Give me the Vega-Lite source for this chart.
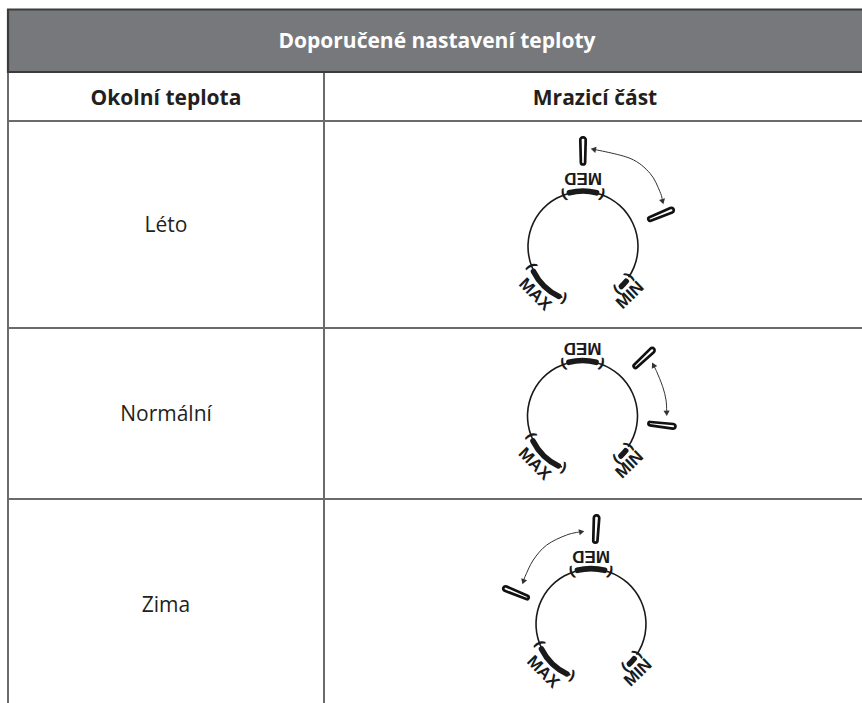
{
  "$schema": "https://vega.github.io/schema/vega-lite/v6.json",
  "width": 862,
  "height": 703,
  "padding": 0,
  "autosize": {"type": "none"},
  "background": "white",
  "config": {"view": {"stroke": null}},
  "datasets": {
    "cells": [
      {"kind": "title", "text": "Doporučené nastavení teploty", "c0": 0, "c1": 2, "r0": 0, "r1": 1},
      {"kind": "head", "text": "Okolní teplota", "c0": 0, "c1": 1, "r0": 1, "r1": 2},
      {"kind": "head", "text": "Mrazicí část", "c0": 1, "c1": 2, "r0": 1, "r1": 2},
      {"kind": "body", "text": "Léto", "c0": 0, "c1": 1, "r0": 2, "r1": 3},
      {"kind": "body", "text": "", "c0": 1, "c1": 2, "r0": 2, "r1": 3},
      {"kind": "body", "text": "Normální", "c0": 0, "c1": 1, "r0": 3, "r1": 4},
      {"kind": "body", "text": "", "c0": 1, "c1": 2, "r0": 3, "r1": 4},
      {"kind": "body", "text": "Zima", "c0": 0, "c1": 1, "r0": 4, "r1": 5},
      {"kind": "body", "text": "", "c0": 1, "c1": 2, "r0": 4, "r1": 5}
    ],
    "dialArcs": [
      {"part": "ring", "a0": -158, "a1": 124},
      {"part": "MED", "a0": -17, "a1": 17},
      {"part": "MAX", "a0": -157, "a1": -114},
      {"part": "MIN", "a0": 126, "a1": 139}
    ],
    "brackets": [
      {"a": -20, "g": "("}, {"a": 20, "g": ")"},
      {"a": -160, "g": "("}, {"a": -111, "g": ")"},
      {"a": 123, "g": "("}, {"a": 142, "g": ")"}
    ],
    "dialLabels": [
      {"label": "MED", "a": 0},
      {"label": "MAX", "a": -135},
      {"label": "MIN", "a": 136}
    ],
    "knobs": [
      {"season": "Léto", "a": 0, "d": 1.722},
      {"season": "Léto", "a": 67.7, "d": 1.519},
      {"season": "Normální", "a": 46.7, "d": 1.523},
      {"season": "Normální", "a": 96.5, "d": 1.441},
      {"season": "Zima", "a": 3, "d": 1.714},
      {"season": "Zima", "a": -67.5, "d": 1.463}
    ],
    "arrows": [
      {"season": "Léto", "i": 0, "x": 0.186, "y": 1.751, "head": -78},
      {"season": "Léto", "i": 1, "x": 0.847, "y": 1.589, "head": null},
      {"season": "Léto", "i": 2, "x": 1.207, "y": 1.319, "head": null},
      {"season": "Léto", "i": 3, "x": 1.387, "y": 0.987, "head": null},
      {"season": "Léto", "i": 4, "x": 1.436, "y": 0.807, "head": 165},
      {"season": "Normální", "i": 0, "x": 1.276, "y": 0.919, "head": -27},
      {"season": "Normální", "i": 1, "x": 1.337, "y": 0.798, "head": null},
      {"season": "Normální", "i": 2, "x": 1.445, "y": 0.528, "head": null},
      {"season": "Normální", "i": 3, "x": 1.505, "y": 0.288, "head": null},
      {"season": "Normální", "i": 4, "x": 1.517, "y": 0.049, "head": 177},
      {"season": "Zima", "i": 0, "x": -0.168, "y": 1.663, "head": 78},
      {"season": "Zima", "i": 1, "x": -0.438, "y": 1.604, "head": null},
      {"season": "Zima", "i": 2, "x": -0.798, "y": 1.423, "head": null},
      {"season": "Zima", "i": 3, "x": -1.04, "y": 1.153, "head": null},
      {"season": "Zima", "i": 4, "x": -1.189, "y": 0.852, "head": null},
      {"season": "Zima", "i": 5, "x": -1.22, "y": 0.762, "head": -161}
    ]
  },
  "layer": [
    {
      "data": {"name": "cells"},
      "transform": [
        {"calculate": "(datum.c0 + datum.c1) / 2", "as": "cm"},
        {"calculate": "(datum.r0 + datum.r1) / 2", "as": "rm"}
      ],
      "encoding": {
        "x": {"field": "c0", "type": "quantitative", "scale": {"type": "linear", "domain": [0, 1, 2], "range": [8, 324, 866], "nice": false, "zero": false}, "axis": null},
        "y": {"field": "r0", "type": "quantitative", "scale": {"type": "linear", "domain": [0, 1, 2, 3, 4, 5], "range": [9.5, 72, 121, 328, 499, 711], "nice": false, "zero": false}, "axis": null}
      },
      "layer": [
        {
          "transform": [{"filter": "datum.kind != 'title'"}],
          "mark": {"type": "rect", "fill": "transparent", "stroke": "#6b6b6b", "strokeWidth": 2},
          "encoding": {"x2": {"field": "c1"}, "y2": {"field": "r1"}}
        },
        {
          "transform": [{"filter": "datum.kind == 'title'"}],
          "mark": {"type": "rect", "fill": "#77787b", "stroke": "#3c3c3c", "strokeWidth": 2.2},
          "encoding": {"x2": {"field": "c1"}, "y2": {"field": "r1"}}
        },
        {
          "transform": [{"filter": "datum.kind == 'head'"}],
          "mark": {"type": "text", "font": "Open Sans", "fontWeight": "bold", "fontSize": 21, "color": "#231f20", "baseline": "middle", "align": "center", "dy": 2},
          "encoding": {
            "x": {"field": "cm", "type": "quantitative"},
            "y": {"field": "rm", "type": "quantitative"},
            "text": {"field": "text"}
          }
        },
        {
          "transform": [{"filter": "datum.kind == 'body' && datum.text != ''"}],
          "mark": {"type": "text", "font": "Open Sans", "fontSize": 21, "color": "#231f20", "baseline": "middle", "align": "center", "dy": 1},
          "encoding": {
            "x": {"field": "cm", "type": "quantitative"},
            "y": {"field": "rm", "type": "quantitative"},
            "text": {"field": "text"}
          }
        }
      ]
    },
    {
      "data": {"name": "cells"},
      "transform": [
        {"filter": "datum.kind == 'title'"},
        {"calculate": "(datum.c0 + datum.c1) / 2", "as": "cm"},
        {"calculate": "(datum.r0 + datum.r1) / 2", "as": "rm"}
      ],
      "mark": {"type": "text", "font": "Open Sans", "fontWeight": "bold", "fontSize": 21, "color": "white", "baseline": "middle", "align": "center", "dy": 1},
      "encoding": {
        "x": {"field": "cm", "type": "quantitative", "scale": {"type": "linear", "domain": [0, 2], "range": [8, 866], "nice": false, "zero": false}, "axis": null},
        "y": {"field": "rm", "type": "quantitative", "scale": {"type": "linear", "domain": [0, 1, 2, 3, 4, 5], "range": [9.5, 72, 121, 328, 499, 711], "nice": false, "zero": false}, "axis": null},
        "text": {"field": "text"}
      }
    },
    {
      "layer": [
        {
          "data": {"name": "dialArcs"},
          "transform": [{"filter": "datum.part == 'ring'"}],
          "mark": {"type": "arc", "radius": 55.8, "radius2": 54.2, "fill": "#1a1a1a"},
          "encoding": {
            "x": {"datum": 0, "type": "quantitative", "scale": {"domain": [-10.5045, 5.027], "nice": false, "zero": false}, "axis": null},
            "y": {"datum": 0, "type": "quantitative", "scale": {"domain": [-8.2252, 4.4414], "nice": false, "zero": false}, "axis": null},
            "theta": {"field": "a0", "type": "quantitative", "stack": null, "scale": {"type": "linear", "domain": [-180, 180], "range": [-3.14159265, 3.14159265]}},
            "theta2": {"field": "a1"}
          }
        },
        {
          "data": {"name": "dialArcs"},
          "transform": [{"filter": "datum.part != 'ring'"}],
          "mark": {"type": "arc", "radius": 58.2, "radius2": 52.6, "cornerRadius": 2.6, "fill": "#1a1a1a"},
          "encoding": {
            "x": {"datum": 0, "type": "quantitative", "scale": {"domain": [-10.5045, 5.027], "nice": false, "zero": false}, "axis": null},
            "y": {"datum": 0, "type": "quantitative", "scale": {"domain": [-8.2252, 4.4414], "nice": false, "zero": false}, "axis": null},
            "theta": {"field": "a0", "type": "quantitative", "stack": null, "scale": {"type": "linear", "domain": [-180, 180], "range": [-3.14159265, 3.14159265]}},
            "theta2": {"field": "a1"}
          }
        },
        {
          "data": {"name": "brackets"},
          "mark": {"type": "text", "radius": 55, "font": "DejaVu Sans", "fontWeight": "bold", "fontSize": 14, "color": "#1a1a1a", "baseline": "middle", "align": "center"},
          "encoding": {
            "x": {"datum": 0, "type": "quantitative", "scale": {"domain": [-10.5045, 5.027], "nice": false, "zero": false}, "axis": null},
            "y": {"datum": 0, "type": "quantitative", "scale": {"domain": [-8.2252, 4.4414], "nice": false, "zero": false}, "axis": null},
            "theta": {"field": "a", "type": "quantitative", "stack": null, "scale": {"type": "linear", "domain": [-180, 180], "range": [-3.14159265, 3.14159265]}},
            "angle": {"field": "a", "type": "quantitative", "scale": null},
            "text": {"field": "g"}
          }
        },
        {
          "data": {"name": "dialLabels"},
          "transform": [{"calculate": "datum.a + 180", "as": "rot"}],
          "mark": {"type": "text", "radius": 68, "font": "Liberation Sans", "fontWeight": "bold", "fontSize": 17, "color": "#1a1a1a", "baseline": "middle", "align": "center"},
          "encoding": {
            "x": {"datum": 0, "type": "quantitative", "scale": {"domain": [-10.5045, 5.027], "nice": false, "zero": false}, "axis": null},
            "y": {"datum": 0, "type": "quantitative", "scale": {"domain": [-8.2252, 4.4414], "nice": false, "zero": false}, "axis": null},
            "theta": {"field": "a", "type": "quantitative", "stack": null, "scale": {"type": "linear", "domain": [-180, 180], "range": [-3.14159265, 3.14159265]}},
            "angle": {"field": "rot", "type": "quantitative", "scale": null},
            "text": {"field": "label"}
          }
        },
        {
          "data": {"name": "arrows"},
          "transform": [{"filter": "datum.season == 'Léto'"}],
          "mark": {"type": "line", "interpolate": "cardinal", "strokeWidth": 1, "color": "#333333"},
          "encoding": {
            "x": {"field": "x", "type": "quantitative", "scale": {"domain": [-10.5045, 5.027], "nice": false, "zero": false}, "axis": null},
            "y": {"field": "y", "type": "quantitative", "scale": {"domain": [-8.2252, 4.4414], "nice": false, "zero": false}, "axis": null},
            "order": {"field": "i"}
          }
        },
        {
          "data": {"name": "arrows"},
          "transform": [{"filter": "datum.season == 'Léto' && datum.head != null"}],
          "mark": {"type": "point", "shape": "triangle-up", "filled": true, "size": 38, "color": "#333333", "opacity": 1},
          "encoding": {
            "x": {"field": "x", "type": "quantitative", "scale": {"domain": [-10.5045, 5.027], "nice": false, "zero": false}, "axis": null},
            "y": {"field": "y", "type": "quantitative", "scale": {"domain": [-8.2252, 4.4414], "nice": false, "zero": false}, "axis": null},
            "angle": {"field": "head", "type": "quantitative", "scale": null}
          }
        },
        {
          "data": {"name": "knobs"},
          "transform": [
            {"filter": "datum.season == 'Léto'"},
            {"calculate": "datum.a - 1.45", "as": "a0"},
            {"calculate": "datum.a + 1.45", "as": "a1"},
            {"calculate": "datum.d - 0.245", "as": "d0"},
            {"calculate": "datum.d + 0.245", "as": "d1"}
          ],
          "mark": {"type": "arc", "fill": "white", "stroke": "#111111", "strokeWidth": 2.7, "cornerRadius": 2.5},
          "encoding": {
            "x": {"datum": 0, "type": "quantitative", "scale": {"domain": [-10.5045, 5.027], "nice": false, "zero": false}, "axis": null},
            "y": {"datum": 0, "type": "quantitative", "scale": {"domain": [-8.2252, 4.4414], "nice": false, "zero": false}, "axis": null},
            "theta": {"field": "a0", "type": "quantitative", "stack": null, "scale": {"type": "linear", "domain": [-180, 180], "range": [-3.14159265, 3.14159265]}},
            "theta2": {"field": "a1"},
            "radius": {"field": "d1", "type": "quantitative", "scale": {"type": "linear", "domain": [0, 1], "range": [0, 55.5], "zero": true}},
            "radius2": {"field": "d0"}
          }
        }
      ]
    },
    {
      "layer": [
        {
          "data": {"name": "dialArcs"},
          "transform": [{"filter": "datum.part == 'ring'"}],
          "mark": {"type": "arc", "radius": 55.8, "radius2": 54.2, "fill": "#1a1a1a"},
          "encoding": {
            "x": {"datum": 0, "type": "quantitative", "scale": {"domain": [-10.4955, 5.036], "nice": false, "zero": false}, "axis": null},
            "y": {"datum": 0, "type": "quantitative", "scale": {"domain": [-5.1712, 7.4955], "nice": false, "zero": false}, "axis": null},
            "theta": {"field": "a0", "type": "quantitative", "stack": null, "scale": {"type": "linear", "domain": [-180, 180], "range": [-3.14159265, 3.14159265]}},
            "theta2": {"field": "a1"}
          }
        },
        {
          "data": {"name": "dialArcs"},
          "transform": [{"filter": "datum.part != 'ring'"}],
          "mark": {"type": "arc", "radius": 58.2, "radius2": 52.6, "cornerRadius": 2.6, "fill": "#1a1a1a"},
          "encoding": {
            "x": {"datum": 0, "type": "quantitative", "scale": {"domain": [-10.4955, 5.036], "nice": false, "zero": false}, "axis": null},
            "y": {"datum": 0, "type": "quantitative", "scale": {"domain": [-5.1712, 7.4955], "nice": false, "zero": false}, "axis": null},
            "theta": {"field": "a0", "type": "quantitative", "stack": null, "scale": {"type": "linear", "domain": [-180, 180], "range": [-3.14159265, 3.14159265]}},
            "theta2": {"field": "a1"}
          }
        },
        {
          "data": {"name": "brackets"},
          "mark": {"type": "text", "radius": 55, "font": "DejaVu Sans", "fontWeight": "bold", "fontSize": 14, "color": "#1a1a1a", "baseline": "middle", "align": "center"},
          "encoding": {
            "x": {"datum": 0, "type": "quantitative", "scale": {"domain": [-10.4955, 5.036], "nice": false, "zero": false}, "axis": null},
            "y": {"datum": 0, "type": "quantitative", "scale": {"domain": [-5.1712, 7.4955], "nice": false, "zero": false}, "axis": null},
            "theta": {"field": "a", "type": "quantitative", "stack": null, "scale": {"type": "linear", "domain": [-180, 180], "range": [-3.14159265, 3.14159265]}},
            "angle": {"field": "a", "type": "quantitative", "scale": null},
            "text": {"field": "g"}
          }
        },
        {
          "data": {"name": "dialLabels"},
          "transform": [{"calculate": "datum.a + 180", "as": "rot"}],
          "mark": {"type": "text", "radius": 68, "font": "Liberation Sans", "fontWeight": "bold", "fontSize": 17, "color": "#1a1a1a", "baseline": "middle", "align": "center"},
          "encoding": {
            "x": {"datum": 0, "type": "quantitative", "scale": {"domain": [-10.4955, 5.036], "nice": false, "zero": false}, "axis": null},
            "y": {"datum": 0, "type": "quantitative", "scale": {"domain": [-5.1712, 7.4955], "nice": false, "zero": false}, "axis": null},
            "theta": {"field": "a", "type": "quantitative", "stack": null, "scale": {"type": "linear", "domain": [-180, 180], "range": [-3.14159265, 3.14159265]}},
            "angle": {"field": "rot", "type": "quantitative", "scale": null},
            "text": {"field": "label"}
          }
        },
        {
          "data": {"name": "arrows"},
          "transform": [{"filter": "datum.season == 'Normální'"}],
          "mark": {"type": "line", "interpolate": "cardinal", "strokeWidth": 1, "color": "#333333"},
          "encoding": {
            "x": {"field": "x", "type": "quantitative", "scale": {"domain": [-10.4955, 5.036], "nice": false, "zero": false}, "axis": null},
            "y": {"field": "y", "type": "quantitative", "scale": {"domain": [-5.1712, 7.4955], "nice": false, "zero": false}, "axis": null},
            "order": {"field": "i"}
          }
        },
        {
          "data": {"name": "arrows"},
          "transform": [{"filter": "datum.season == 'Normální' && datum.head != null"}],
          "mark": {"type": "point", "shape": "triangle-up", "filled": true, "size": 38, "color": "#333333", "opacity": 1},
          "encoding": {
            "x": {"field": "x", "type": "quantitative", "scale": {"domain": [-10.4955, 5.036], "nice": false, "zero": false}, "axis": null},
            "y": {"field": "y", "type": "quantitative", "scale": {"domain": [-5.1712, 7.4955], "nice": false, "zero": false}, "axis": null},
            "angle": {"field": "head", "type": "quantitative", "scale": null}
          }
        },
        {
          "data": {"name": "knobs"},
          "transform": [
            {"filter": "datum.season == 'Normální'"},
            {"calculate": "datum.a - 1.45", "as": "a0"},
            {"calculate": "datum.a + 1.45", "as": "a1"},
            {"calculate": "datum.d - 0.245", "as": "d0"},
            {"calculate": "datum.d + 0.245", "as": "d1"}
          ],
          "mark": {"type": "arc", "fill": "white", "stroke": "#111111", "strokeWidth": 2.7, "cornerRadius": 2.5},
          "encoding": {
            "x": {"datum": 0, "type": "quantitative", "scale": {"domain": [-10.4955, 5.036], "nice": false, "zero": false}, "axis": null},
            "y": {"datum": 0, "type": "quantitative", "scale": {"domain": [-5.1712, 7.4955], "nice": false, "zero": false}, "axis": null},
            "theta": {"field": "a0", "type": "quantitative", "stack": null, "scale": {"type": "linear", "domain": [-180, 180], "range": [-3.14159265, 3.14159265]}},
            "theta2": {"field": "a1"},
            "radius": {"field": "d1", "type": "quantitative", "scale": {"type": "linear", "domain": [0, 1], "range": [0, 55.5], "zero": true}},
            "radius2": {"field": "d0"}
          }
        }
      ]
    },
    {
      "layer": [
        {
          "data": {"name": "dialArcs"},
          "transform": [{"filter": "datum.part == 'ring'"}],
          "mark": {"type": "arc", "radius": 55.8, "radius2": 54.2, "fill": "#1a1a1a"},
          "encoding": {
            "x": {"datum": 0, "type": "quantitative", "scale": {"domain": [-10.6486, 4.8829], "nice": false, "zero": false}, "axis": null},
            "y": {"datum": 0, "type": "quantitative", "scale": {"domain": [-1.4234, 11.2432], "nice": false, "zero": false}, "axis": null},
            "theta": {"field": "a0", "type": "quantitative", "stack": null, "scale": {"type": "linear", "domain": [-180, 180], "range": [-3.14159265, 3.14159265]}},
            "theta2": {"field": "a1"}
          }
        },
        {
          "data": {"name": "dialArcs"},
          "transform": [{"filter": "datum.part != 'ring'"}],
          "mark": {"type": "arc", "radius": 58.2, "radius2": 52.6, "cornerRadius": 2.6, "fill": "#1a1a1a"},
          "encoding": {
            "x": {"datum": 0, "type": "quantitative", "scale": {"domain": [-10.6486, 4.8829], "nice": false, "zero": false}, "axis": null},
            "y": {"datum": 0, "type": "quantitative", "scale": {"domain": [-1.4234, 11.2432], "nice": false, "zero": false}, "axis": null},
            "theta": {"field": "a0", "type": "quantitative", "stack": null, "scale": {"type": "linear", "domain": [-180, 180], "range": [-3.14159265, 3.14159265]}},
            "theta2": {"field": "a1"}
          }
        },
        {
          "data": {"name": "brackets"},
          "mark": {"type": "text", "radius": 55, "font": "DejaVu Sans", "fontWeight": "bold", "fontSize": 14, "color": "#1a1a1a", "baseline": "middle", "align": "center"},
          "encoding": {
            "x": {"datum": 0, "type": "quantitative", "scale": {"domain": [-10.6486, 4.8829], "nice": false, "zero": false}, "axis": null},
            "y": {"datum": 0, "type": "quantitative", "scale": {"domain": [-1.4234, 11.2432], "nice": false, "zero": false}, "axis": null},
            "theta": {"field": "a", "type": "quantitative", "stack": null, "scale": {"type": "linear", "domain": [-180, 180], "range": [-3.14159265, 3.14159265]}},
            "angle": {"field": "a", "type": "quantitative", "scale": null},
            "text": {"field": "g"}
          }
        },
        {
          "data": {"name": "dialLabels"},
          "transform": [{"calculate": "datum.a + 180", "as": "rot"}],
          "mark": {"type": "text", "radius": 68, "font": "Liberation Sans", "fontWeight": "bold", "fontSize": 17, "color": "#1a1a1a", "baseline": "middle", "align": "center"},
          "encoding": {
            "x": {"datum": 0, "type": "quantitative", "scale": {"domain": [-10.6486, 4.8829], "nice": false, "zero": false}, "axis": null},
            "y": {"datum": 0, "type": "quantitative", "scale": {"domain": [-1.4234, 11.2432], "nice": false, "zero": false}, "axis": null},
            "theta": {"field": "a", "type": "quantitative", "stack": null, "scale": {"type": "linear", "domain": [-180, 180], "range": [-3.14159265, 3.14159265]}},
            "angle": {"field": "rot", "type": "quantitative", "scale": null},
            "text": {"field": "label"}
          }
        },
        {
          "data": {"name": "arrows"},
          "transform": [{"filter": "datum.season == 'Zima'"}],
          "mark": {"type": "line", "interpolate": "cardinal", "strokeWidth": 1, "color": "#333333"},
          "encoding": {
            "x": {"field": "x", "type": "quantitative", "scale": {"domain": [-10.6486, 4.8829], "nice": false, "zero": false}, "axis": null},
            "y": {"field": "y", "type": "quantitative", "scale": {"domain": [-1.4234, 11.2432], "nice": false, "zero": false}, "axis": null},
            "order": {"field": "i"}
          }
        },
        {
          "data": {"name": "arrows"},
          "transform": [{"filter": "datum.season == 'Zima' && datum.head != null"}],
          "mark": {"type": "point", "shape": "triangle-up", "filled": true, "size": 38, "color": "#333333", "opacity": 1},
          "encoding": {
            "x": {"field": "x", "type": "quantitative", "scale": {"domain": [-10.6486, 4.8829], "nice": false, "zero": false}, "axis": null},
            "y": {"field": "y", "type": "quantitative", "scale": {"domain": [-1.4234, 11.2432], "nice": false, "zero": false}, "axis": null},
            "angle": {"field": "head", "type": "quantitative", "scale": null}
          }
        },
        {
          "data": {"name": "knobs"},
          "transform": [
            {"filter": "datum.season == 'Zima'"},
            {"calculate": "datum.a - 1.45", "as": "a0"},
            {"calculate": "datum.a + 1.45", "as": "a1"},
            {"calculate": "datum.d - 0.245", "as": "d0"},
            {"calculate": "datum.d + 0.245", "as": "d1"}
          ],
          "mark": {"type": "arc", "fill": "white", "stroke": "#111111", "strokeWidth": 2.7, "cornerRadius": 2.5},
          "encoding": {
            "x": {"datum": 0, "type": "quantitative", "scale": {"domain": [-10.6486, 4.8829], "nice": false, "zero": false}, "axis": null},
            "y": {"datum": 0, "type": "quantitative", "scale": {"domain": [-1.4234, 11.2432], "nice": false, "zero": false}, "axis": null},
            "theta": {"field": "a0", "type": "quantitative", "stack": null, "scale": {"type": "linear", "domain": [-180, 180], "range": [-3.14159265, 3.14159265]}},
            "theta2": {"field": "a1"},
            "radius": {"field": "d1", "type": "quantitative", "scale": {"type": "linear", "domain": [0, 1], "range": [0, 55.5], "zero": true}},
            "radius2": {"field": "d0"}
          }
        }
      ]
    }
  ],
  "resolve": {"scale": {"x": "independent", "y": "independent"}}
}
